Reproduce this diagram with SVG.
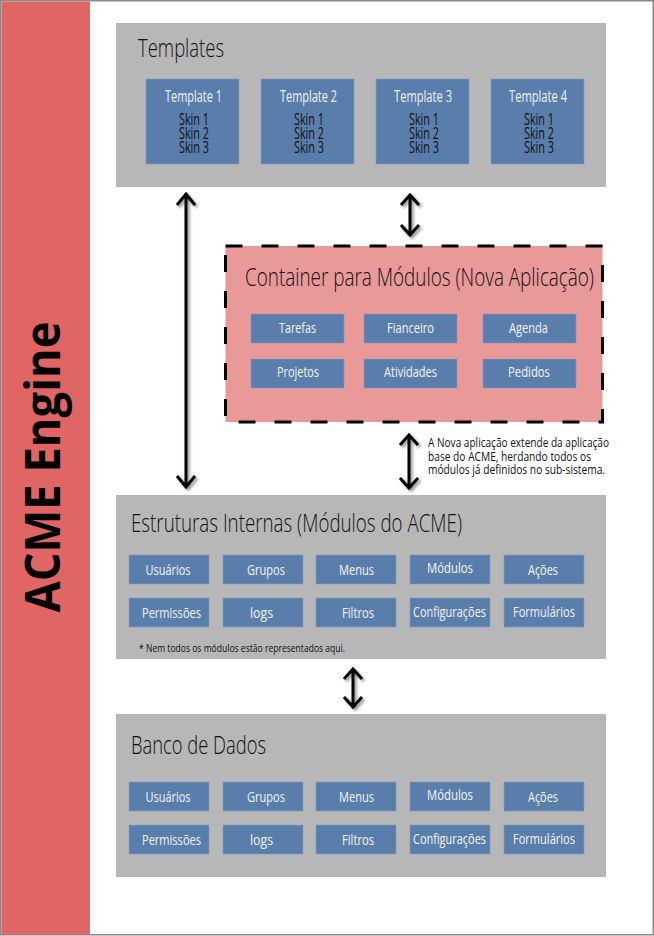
<svg xmlns="http://www.w3.org/2000/svg" width="654" height="936" viewBox="0 0 654 936">
<defs>
<filter id="sh" x="-50%" y="-20%" width="200%" height="140%">
<feDropShadow dx="2" dy="2" stdDeviation="1.5" flood-color="#000" flood-opacity="0.45"/>
</filter>
<style>
text{font-family:"Open Sans","Liberation Sans",sans-serif;}
.panel{fill:#b7b7b7;}
.blue{fill:#5a7eab;stroke:#7f9cc0;stroke-width:0.6;}
.title{font-size:26px;fill:#111;font-weight:300;}
.lbl{font-size:14px;fill:#f2f4f8;text-anchor:middle;}
.tl{font-size:16px;fill:#eef2f7;text-anchor:middle;}
.skin{font-size:16px;fill:#111;text-anchor:middle;}
.note{font-size:12px;fill:#111;}
.arr{fill:none;stroke:#000;stroke-width:3;stroke-linecap:butt;stroke-linejoin:miter;}
</style>
</defs>
<rect x="0.75" y="0.75" width="652.5" height="934" fill="#fff" stroke="#8a8a8a" stroke-width="1.5"/>
<rect x="1.5" y="1.5" width="88.5" height="933" fill="#e06666"/>
<text transform="translate(60,467) rotate(-90)" text-anchor="middle" font-size="48" font-weight="700" fill="#000" textLength="291" lengthAdjust="spacingAndGlyphs">ACME Engine</text>

<g id="templates">
<rect class="panel" x="116" y="23" width="490" height="164"/>
<text class="title" x="138" y="57" textLength="86" lengthAdjust="spacingAndGlyphs">Templates</text>
<g id="template1">
<rect class="blue" x="146" y="79" width="93" height="85"/>
<text class="tl" x="193.5" y="102" textLength="57" lengthAdjust="spacingAndGlyphs">Template 1</text>
<text class="skin" x="194" y="125" textLength="30" lengthAdjust="spacingAndGlyphs">Skin 1</text>
<text class="skin" x="194" y="139" textLength="30" lengthAdjust="spacingAndGlyphs">Skin 2</text>
<text class="skin" x="194" y="153" textLength="30" lengthAdjust="spacingAndGlyphs">Skin 3</text>
</g>
<g id="template2">
<rect class="blue" x="261" y="79" width="93" height="85"/>
<text class="tl" x="308.5" y="102" textLength="57" lengthAdjust="spacingAndGlyphs">Template 2</text>
<text class="skin" x="309" y="125" textLength="30" lengthAdjust="spacingAndGlyphs">Skin 1</text>
<text class="skin" x="309" y="139" textLength="30" lengthAdjust="spacingAndGlyphs">Skin 2</text>
<text class="skin" x="309" y="153" textLength="30" lengthAdjust="spacingAndGlyphs">Skin 3</text>
</g>
<g id="template3">
<rect class="blue" x="376" y="79" width="93" height="85"/>
<text class="tl" x="423" y="102" textLength="58" lengthAdjust="spacingAndGlyphs">Template 3</text>
<text class="skin" x="424" y="125" textLength="30" lengthAdjust="spacingAndGlyphs">Skin 1</text>
<text class="skin" x="424" y="139" textLength="30" lengthAdjust="spacingAndGlyphs">Skin 2</text>
<text class="skin" x="424" y="153" textLength="30" lengthAdjust="spacingAndGlyphs">Skin 3</text>
</g>
<g id="template4">
<rect class="blue" x="491" y="79" width="93" height="85"/>
<text class="tl" x="538" y="102" textLength="58" lengthAdjust="spacingAndGlyphs">Template 4</text>
<text class="skin" x="539" y="125" textLength="30" lengthAdjust="spacingAndGlyphs">Skin 1</text>
<text class="skin" x="539" y="139" textLength="30" lengthAdjust="spacingAndGlyphs">Skin 2</text>
<text class="skin" x="539" y="153" textLength="30" lengthAdjust="spacingAndGlyphs">Skin 3</text>
</g>
</g>

<g id="container">
<rect x="225.5" y="246" width="377" height="176" fill="#ea9999" stroke="#000" stroke-width="3" stroke-dasharray="17 19"/>
<text class="title" x="245" y="286" textLength="349" lengthAdjust="spacingAndGlyphs">Container para Módulos (Nova Aplicação)</text>
<g id="m-tarefas"><rect class="blue" x="251" y="314" width="93" height="29"/><text class="lbl" x="297.5" y="333" textLength="37" lengthAdjust="spacingAndGlyphs">Tarefas</text></g>
<g id="m-fianceiro"><rect class="blue" x="364" y="314" width="93" height="29"/><text class="lbl" x="410.5" y="333" textLength="47" lengthAdjust="spacingAndGlyphs">Fianceiro</text></g>
<g id="m-agenda"><rect class="blue" x="483" y="314" width="93" height="29"/><text class="lbl" x="528.5" y="333" textLength="39" lengthAdjust="spacingAndGlyphs">Agenda</text></g>
<g id="m-projetos"><rect class="blue" x="251" y="359" width="93" height="29"/><text class="lbl" x="298" y="377" textLength="42" lengthAdjust="spacingAndGlyphs">Projetos</text></g>
<g id="m-atividades"><rect class="blue" x="364" y="359" width="93" height="29"/><text class="lbl" x="410.5" y="377" textLength="53" lengthAdjust="spacingAndGlyphs">Atividades</text></g>
<g id="m-pedidos"><rect class="blue" x="483" y="359" width="93" height="29"/><text class="lbl" x="529" y="377" textLength="42" lengthAdjust="spacingAndGlyphs">Pedidos</text></g>
</g>

<g id="annotation">
<text class="note" x="428" y="447" textLength="181" lengthAdjust="spacingAndGlyphs">A Nova aplicação extende da aplicação</text>
<text class="note" x="428" y="460.5" textLength="163" lengthAdjust="spacingAndGlyphs">base do ACME, herdando todos os</text>
<text class="note" x="428" y="474" textLength="177" lengthAdjust="spacingAndGlyphs">módulos já definidos no sub-sistema.</text>
</g>

<g id="estruturas">
<rect class="panel" x="116" y="495" width="490" height="164"/>
<text class="title" x="131" y="532" textLength="331" lengthAdjust="spacingAndGlyphs">Estruturas Internas (Módulos do ACME)</text>
<g id="e-usuarios"><rect class="blue" x="129" y="555" width="80" height="29"/><text class="lbl" x="168" y="575" textLength="45" lengthAdjust="spacingAndGlyphs">Usuários</text></g>
<g id="e-grupos"><rect class="blue" x="223" y="555" width="80" height="29"/><text class="lbl" x="266" y="575" textLength="38" lengthAdjust="spacingAndGlyphs">Grupos</text></g>
<g id="e-menus"><rect class="blue" x="316" y="555" width="80" height="29"/><text class="lbl" x="356.5" y="575" textLength="35" lengthAdjust="spacingAndGlyphs">Menus</text></g>
<g id="e-modulos"><rect class="blue" x="410" y="555" width="80" height="29"/><text class="lbl" x="450" y="573" textLength="46" lengthAdjust="spacingAndGlyphs">Módulos</text></g>
<g id="e-acoes"><rect class="blue" x="504" y="555" width="80" height="29"/><text class="lbl" x="543" y="575" textLength="30" lengthAdjust="spacingAndGlyphs">Ações</text></g>
<g id="e-permissoes"><rect class="blue" x="129" y="598" width="80" height="29"/><text class="lbl" x="171.5" y="618" textLength="59" lengthAdjust="spacingAndGlyphs">Permissões</text></g>
<g id="e-logs"><rect class="blue" x="223" y="598" width="80" height="29"/><text class="lbl" x="261.5" y="618" textLength="23" lengthAdjust="spacingAndGlyphs">logs</text></g>
<g id="e-filtros"><rect class="blue" x="316" y="598" width="80" height="29"/><text class="lbl" x="358" y="618" textLength="32" lengthAdjust="spacingAndGlyphs">Filtros</text></g>
<g id="e-configuracoes"><rect class="blue" x="410" y="598" width="80" height="29"/><text class="lbl" x="449.5" y="617" textLength="73" lengthAdjust="spacingAndGlyphs">Configurações</text></g>
<g id="e-formularios"><rect class="blue" x="504" y="598" width="80" height="29"/><text class="lbl" x="544" y="617" textLength="62" lengthAdjust="spacingAndGlyphs">Formulários</text></g>
<text x="139" y="652" font-size="10" fill="#111" textLength="206" lengthAdjust="spacingAndGlyphs">* Nem todos os módulos estão representados aqui.</text>
</g>

<g id="banco">
<rect class="panel" x="116" y="714" width="490" height="163"/>
<text class="title" x="131" y="754" textLength="135" lengthAdjust="spacingAndGlyphs">Banco de Dados</text>
<g id="b-usuarios"><rect class="blue" x="129" y="782" width="80" height="29"/><text class="lbl" x="168" y="802" textLength="45" lengthAdjust="spacingAndGlyphs">Usuários</text></g>
<g id="b-grupos"><rect class="blue" x="223" y="782" width="80" height="29"/><text class="lbl" x="266" y="802" textLength="38" lengthAdjust="spacingAndGlyphs">Grupos</text></g>
<g id="b-menus"><rect class="blue" x="316" y="782" width="80" height="29"/><text class="lbl" x="356.5" y="802" textLength="35" lengthAdjust="spacingAndGlyphs">Menus</text></g>
<g id="b-modulos"><rect class="blue" x="410" y="782" width="80" height="29"/><text class="lbl" x="450" y="800" textLength="46" lengthAdjust="spacingAndGlyphs">Módulos</text></g>
<g id="b-acoes"><rect class="blue" x="504" y="782" width="80" height="29"/><text class="lbl" x="543" y="802" textLength="30" lengthAdjust="spacingAndGlyphs">Ações</text></g>
<g id="b-permissoes"><rect class="blue" x="129" y="825" width="80" height="29"/><text class="lbl" x="171.5" y="845" textLength="59" lengthAdjust="spacingAndGlyphs">Permissões</text></g>
<g id="b-logs"><rect class="blue" x="223" y="825" width="80" height="29"/><text class="lbl" x="261.5" y="845" textLength="23" lengthAdjust="spacingAndGlyphs">logs</text></g>
<g id="b-filtros"><rect class="blue" x="316" y="825" width="80" height="29"/><text class="lbl" x="358" y="845" textLength="32" lengthAdjust="spacingAndGlyphs">Filtros</text></g>
<g id="b-configuracoes"><rect class="blue" x="410" y="825" width="80" height="29"/><text class="lbl" x="449.5" y="844" textLength="73" lengthAdjust="spacingAndGlyphs">Configurações</text></g>
<g id="b-formularios"><rect class="blue" x="504" y="825" width="80" height="29"/><text class="lbl" x="544" y="844" textLength="62" lengthAdjust="spacingAndGlyphs">Formulários</text></g>
</g>

<g id="connectors" class="arr" filter="url(#sh)">
<path d="M186 194 V487 M177 205 L186 194 L195 205 M177 476 L186 487 L195 476"/>
<path d="M410 195 V235 M401 205 L410 195 L419 205 M401 225 L410 235 L419 225"/>
<path d="M409 435 V488 M400 445 L409 435 L418 445 M400 478 L409 488 L418 478"/>
<path d="M353 669 V707 M344 679 L353 669 L362 679 M344 697 L353 707 L362 697"/>
</g>
</svg>
